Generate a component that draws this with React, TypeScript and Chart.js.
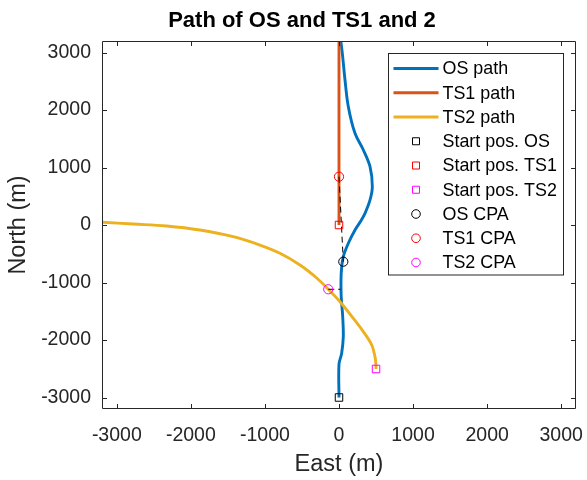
import React, { useEffect, useRef } from 'react';
import { Chart, registerables } from 'chart.js';

Chart.register(...registerables);

// ---- data (metres, East / North) ----
const osEast = [0, 0, 36, 58, 50, 30, 27, 35, 58, 126, 216, 290, 351, 419, 450, 419, 329, 216, 126, 81, 45, 14];
const osNorth = [-3000, -2420, -2231, -1942, -1595, -1250, -950, -750, -551, -318, -87, 60, 203, 435, 666, 1014, 1304, 1594, 2058, 2522, 2986, 3300];

const ts1East = [0, 0];
const ts1North = [0, 3400];

const ts2East = [500, 497, 486, 442, 328, 193, 14, -145, -301, -527, -797, -1068, -1428, -1878, -2328, -2780, -3193, -3350];
const ts2North = [-2504, -2400, -2290, -2087, -1855, -1623, -1334, -1118, -922, -696, -492, -348, -203, -87, -17, 17, 47, 55];

const startOS = { x: 0, y: -3000 };
const startTS1 = { x: 0, y: 0 };
const startTS2 = { x: 500, y: -2504 };
const cpaOS = { x: 58, y: -638 };
const cpaTS1 = { x: 0, y: 840 };
const cpaTS2 = { x: -145, y: -1118 };
const osAtTS2Cpa = { x: 20, y: -1118 };

const xTicks = [-3000, -2000, -1000, 0, 1000, 2000, 3000];
const yTicks = [-3000, -2000, -1000, 0, 1000, 2000, 3000];
const axisMin = -3200;
const axisMax = 3200;

const titleText = 'Path of OS and TS1 and 2';
const xTitle = 'East (m)';
const yTitle = 'North (m)';

const FONT = '"Liberation Sans", Arial, Helvetica, sans-serif';
const AXIS_COLOR = '#262626';

const toPts = (xs: number[], ys: number[]) => xs.map((x, i) => ({ x, y: ys[i] }));

const titlePlugin = {
  id: 'matlabTitle',
  afterDraw(chart: any) {
    const { ctx, chartArea } = chart;
    ctx.save();
    ctx.font = `bold 22px ${FONT}`;
    ctx.fillStyle = '#000000';
    ctx.textAlign = 'center';
    ctx.textBaseline = 'middle';
    ctx.fillText(titleText, (chartArea.left + chartArea.right) / 2 - 37, chartArea.top - 20);
    ctx.restore();
  },
};

const axesPlugin = {
  id: 'matlabAxes',
  afterDatasetsDraw(chart: any) {
    const { ctx, chartArea, scales } = chart;
    const { left, right, top, bottom } = chartArea;
    ctx.save();
    ctx.strokeStyle = AXIS_COLOR;
    ctx.lineWidth = 1;
    ctx.beginPath();
    ctx.rect(left + 0.5, top + 0.5, right - left - 1, bottom - top - 1);
    ctx.stroke();
    const tl = 5;
    ctx.beginPath();
    xTicks.forEach((v) => {
      const px = Math.round(scales.x.getPixelForValue(v)) + 0.5;
      ctx.moveTo(px, bottom);
      ctx.lineTo(px, bottom - tl);
      ctx.moveTo(px, top);
      ctx.lineTo(px, top + tl);
    });
    yTicks.forEach((v) => {
      const py = Math.round(scales.y.getPixelForValue(v)) + 0.5;
      ctx.moveTo(left, py);
      ctx.lineTo(left + tl, py);
      ctx.moveTo(right, py);
      ctx.lineTo(right - tl, py);
    });
    ctx.stroke();
    ctx.restore();
  },
};

const legendPlugin = {
  id: 'matlabLegend',
  afterDraw(chart: any) {
    const { ctx, chartArea } = chart;
    const items = chart.data.datasets.filter((d: any) => d.inLegend);
    const boxLeft = chartArea.right - 187.5;
    const boxTop = chartArea.top + 12.5;
    const boxW = 175;
    const rowH = 24.25;
    const boxH = 221.5;
    ctx.save();
    ctx.fillStyle = '#ffffff';
    ctx.fillRect(boxLeft, boxTop, boxW, boxH);
    ctx.strokeStyle = AXIS_COLOR;
    ctx.lineWidth = 1;
    ctx.strokeRect(boxLeft, boxTop, boxW, boxH);
    ctx.font = `17.9px ${FONT}`;
    ctx.textBaseline = 'middle';
    ctx.textAlign = 'left';
    items.forEach((d: any, i: number) => {
      const cy = boxTop + 15 + i * rowH;
      const x0 = boxLeft + 5;
      const x1 = boxLeft + 50;
      if (d.showLine) {
        ctx.strokeStyle = d.borderColor;
        ctx.lineWidth = d.borderWidth;
        ctx.beginPath();
        ctx.moveTo(x0, cy);
        ctx.lineTo(x1, cy);
        ctx.stroke();
      } else {
        const cx = (x0 + x1) / 2;
        ctx.strokeStyle = d.pointBorderColor;
        ctx.lineWidth = 1;
        ctx.beginPath();
        if (d.pointStyle === 'rect') {
          ctx.rect(cx - 3.5, cy - 3.5, 7, 7);
        } else {
          ctx.arc(cx, cy, 4.3, 0, Math.PI * 2);
        }
        ctx.stroke();
      }
      ctx.fillStyle = '#000000';
      ctx.fillText(d.label, boxLeft + 54, cy + 1);
    });
    ctx.restore();
  },
};

function App() {
  const canvasRef = useRef<HTMLCanvasElement | null>(null);

  useEffect(() => {
    document.body.style.margin = '0';
    const canvas = canvasRef.current;
    if (!canvas) return;

    const pathDs = (label: string, xs: number[], ys: number[], color: string, order: number) => ({
      label,
      data: toPts(xs, ys),
      showLine: true,
      borderColor: color,
      backgroundColor: color,
      borderWidth: 2.9,
      pointRadius: 0,
      tension: 0.35,
      clip: 0,
      order,
      inLegend: true,
    });
    const markerDs = (label: string, pt: { x: number; y: number }, color: string, style: string) => ({
      label,
      data: [pt],
      showLine: false,
      pointStyle: style,
      pointRadius: style === 'rect' ? 5.3 : 4.6,
      pointBorderColor: color,
      pointBackgroundColor: 'rgba(0,0,0,0)',
      pointBorderWidth: 1,
      borderColor: color,
      clip: 0,
      order: 0,
      inLegend: true,
    });
    const connDs = (a: { x: number; y: number }, b: { x: number; y: number }) => ({
      label: '',
      data: [a, b],
      showLine: true,
      borderColor: '#000000',
      borderWidth: 1,
      borderDash: [6, 4],
      pointRadius: 0,
      clip: 0,
      order: 5,
      inLegend: false,
    });

    const chart = new Chart(canvas, {
      type: 'scatter',
      data: {
        datasets: [
          pathDs('OS path', osEast, osNorth, '#0072BD', 12),
          pathDs('TS1 path', ts1East, ts1North, '#D95319', 11),
          pathDs('TS2 path', ts2East, ts2North, '#EDB120', 10),
          markerDs('Start pos. OS', startOS, '#000000', 'rect'),
          markerDs('Start pos. TS1', startTS1, '#FF0000', 'rect'),
          markerDs('Start pos. TS2', startTS2, '#FF00FF', 'rect'),
          markerDs('OS CPA', cpaOS, '#000000', 'circle'),
          markerDs('TS1 CPA', cpaTS1, '#FF0000', 'circle'),
          markerDs('TS2 CPA', cpaTS2, '#FF00FF', 'circle'),
          connDs(cpaTS1, cpaOS),
          connDs(cpaTS2, osAtTS2Cpa),
        ] as any,
      },
      options: {
        animation: false,
        responsive: false,
        devicePixelRatio: 1,
        layout: { padding: { left: 0, right: 11, top: 41, bottom: 0 } },
        plugins: {
          legend: { display: false },
          tooltip: { enabled: false },
          title: { display: false },
        },
        scales: {
          x: {
            type: 'linear',
            position: 'bottom',
            min: axisMin,
            max: axisMax,
            grid: { display: false, drawTicks: false },
            border: { display: false },
            afterBuildTicks: (scale: any) => {
              scale.ticks = xTicks.map((v) => ({ value: v }));
            },
            afterFit: (scale: any) => {
              scale.height = 71;
              scale.paddingLeft = 0;
              scale.paddingRight = 0;
            },
            ticks: {
              color: AXIS_COLOR,
              font: { family: FONT, size: 19.5 },
              padding: 15,
              maxRotation: 0,
              autoSkip: false,
              callback: (v: any) => String(v),
            },
            title: {
              display: true,
              text: xTitle,
              color: AXIS_COLOR,
              font: { family: FONT, size: 23.5 },
              padding: { top: 0, bottom: 1 },
            },
          },
          y: {
            type: 'linear',
            position: 'left',
            min: axisMin,
            max: axisMax,
            grid: { display: false, drawTicks: false },
            border: { display: false },
            afterBuildTicks: (scale: any) => {
              scale.ticks = yTicks.map((v) => ({ value: v }));
            },
            afterFit: (scale: any) => {
              scale.width = 102;
              scale.paddingTop = 0;
              scale.paddingBottom = 0;
            },
            ticks: {
              color: AXIS_COLOR,
              font: { family: FONT, size: 19.5 },
              padding: 11,
              autoSkip: false,
              callback: (v: any) => String(v),
            },
            title: {
              display: true,
              text: yTitle,
              color: AXIS_COLOR,
              font: { family: FONT, size: 23.5 },
              padding: { top: 4, bottom: 0 },
            },
          },
        },
      } as any,
      plugins: [axesPlugin, legendPlugin, titlePlugin],
    });

    return () => {
      chart.destroy();
    };
  }, []);

  return (
    <div style={{ position: 'absolute', left: 0, top: 0, width: 587, height: 480, background: '#ffffff' }}>
      <canvas ref={canvasRef} width={587} height={480} style={{ width: 587, height: 480, display: 'block' }} />
    </div>
  );
}

export default App;
